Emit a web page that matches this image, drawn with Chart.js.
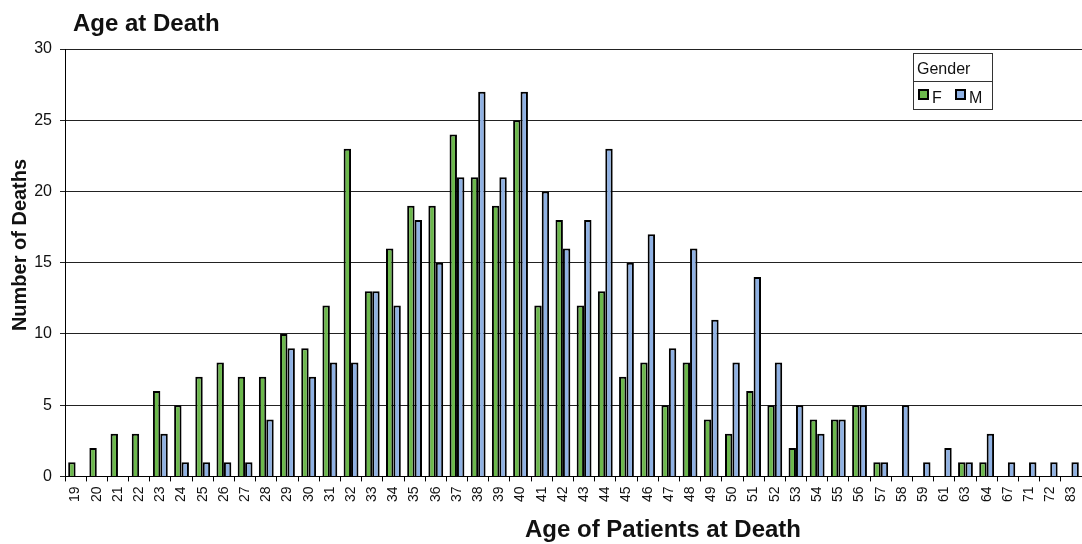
<!DOCTYPE html>
<html>
<head>
<meta charset="utf-8">
<script src="https://cdn.jsdelivr.net/npm/chart.js@4.4.1/dist/chart.umd.min.js"></script>
<style>
  html, body { margin: 0; padding: 0; background: #ffffff; }
  #wrap { width: 1082px; height: 544px; position: relative; }
</style>
</head>
<body>
<div id="wrap"><canvas id="c" width="1082" height="544"></canvas></div>
<script>
// Age at death, counted separately for female and male patients
const ages = ['19','20','21','22','23','24','25','26','27','28','29','30','31','32','33','34','35','36','37','38',
              '39','40','41','42','43','44','45','46','47','48','49','50','51','52','53','54','55','56','57','58',
              '59','61','63','64','67','71','72','83'];
const female = [1,2,3,3,6,5,7,8,7,7,10,9,12,23,13,16,19,19,24,21,
                19,25,12,18,12,13,7,8,5,8,4,3,6,5,2,4,4,5,1,null,
                null,null,1,1,null,null,null,null];
const male   = [null,null,null,null,3,1,1,1,1,4,9,7,8,8,13,12,18,15,21,27,
                21,27,20,16,18,23,15,17,9,16,11,8,14,8,5,3,4,5,1,5,
                1,2,1,3,1,1,1,1];
const yTicks = [0, 5, 10, 15, 20, 25, 30];
const seriesNames = ['F', 'M'];
const chartTitle = 'Age at Death';
const keyTitle = 'Gender';
const xTitle = 'Age of Patients at Death';
const yTitle = 'Number of Deaths';

const FONT = 'Arial, "Liberation Sans", Helvetica, sans-serif';
const INK = '#111111';

// Heading, axis captions and the boxed series key inside the plot
const captionsAndKey = {
  id: 'captionsAndKey',
  afterDraw(chart) {
    const ctx = chart.ctx;
    ctx.save();
    ctx.fillStyle = INK;
    ctx.textBaseline = 'alphabetic';
    ctx.textAlign = 'left';
    ctx.font = 'bold 24px ' + FONT;
    ctx.fillText(chartTitle, 73, 31);

    // horizontal axis caption
    ctx.textAlign = 'center';
    ctx.font = 'bold 24px ' + FONT;
    ctx.fillText(xTitle, 663, 537);

    // vertical axis caption
    ctx.save();
    ctx.translate(26, 245);
    ctx.rotate(-Math.PI / 2);
    ctx.font = 'bold 20px ' + FONT;
    ctx.fillText(yTitle, 0, 0);
    ctx.restore();

    // series key
    ctx.textAlign = 'left';
    const bx = 913, by = 53, bw = 79, bh = 56, split = 81;
    ctx.fillStyle = '#ffffff';
    ctx.fillRect(bx, by, bw, bh);
    ctx.strokeStyle = '#333333';
    ctx.lineWidth = 1;
    ctx.strokeRect(bx + 0.5, by + 0.5, bw, bh);
    ctx.beginPath();
    ctx.moveTo(bx, split + 0.5);
    ctx.lineTo(bx + bw + 0.5, split + 0.5);
    ctx.stroke();

    ctx.fillStyle = INK;
    ctx.font = '16px ' + FONT;
    ctx.fillText(keyTitle, bx + 4, by + 21);

    const swX = [bx + 5, bx + 42];
    chart.data.datasets.forEach((ds, i) => {
      const x = swX[i];
      ctx.fillStyle = ds.backgroundColor;
      ctx.fillRect(x, 89, 10, 10);
      ctx.strokeStyle = '#000000';
      ctx.lineWidth = 2;
      ctx.strokeRect(x + 1, 90, 9, 9);
      ctx.fillStyle = INK;
      ctx.font = '16px ' + FONT;
      ctx.fillText(ds.label, x + 14, 103);
    });
    ctx.restore();
  }
};

new Chart(document.getElementById('c'), {
  type: 'bar',
  data: {
    labels: ages,
    datasets: [
      { label: seriesNames[0], data: female, backgroundColor: '#6cb84c', borderColor: '#000000', borderWidth: 2 },
      { label: seriesNames[1], data: male,   backgroundColor: '#8fb1e3', borderColor: '#000000', borderWidth: 2 }
    ]
  },
  plugins: [captionsAndKey],
  options: {
    responsive: false,
    animation: false,
    devicePixelRatio: 1,
    layout: { padding: { top: 49, right: 0, bottom: 37, left: 0 } },
    datasets: { bar: { categoryPercentage: 0.7, barPercentage: 1.0 } },
    plugins: {
      legend: { display: false },
      title: { display: false },
      tooltip: { enabled: false }
    },
    scales: {
      x: {
        grid: { display: true, drawOnChartArea: false, drawTicks: true, tickLength: 5, color: '#000000', offset: true },
        border: { display: true, color: '#000000', width: 1 },
        ticks: { autoSkip: false, maxRotation: 90, minRotation: 90, padding: 5, color: INK, font: { family: FONT, size: 14 } },
        title: { display: false },
        afterFit(scale) { scale.paddingLeft = 0; scale.paddingRight = 0; }
      },
      y: {
        min: 0, max: 30,
        afterBuildTicks(scale) { scale.ticks = yTicks.map(v => ({ value: v })); },
        grid: { color: '#222222', lineWidth: 1, tickLength: 5, drawTicks: true },
        border: { display: true, color: '#000000', width: 1 },
        ticks: { padding: 8, color: INK, font: { family: FONT, size: 16 } },
        title: { display: false },
        afterFit(scale) { scale.width = 65; }
      }
    }
  }
});
</script>
</body>
</html>
